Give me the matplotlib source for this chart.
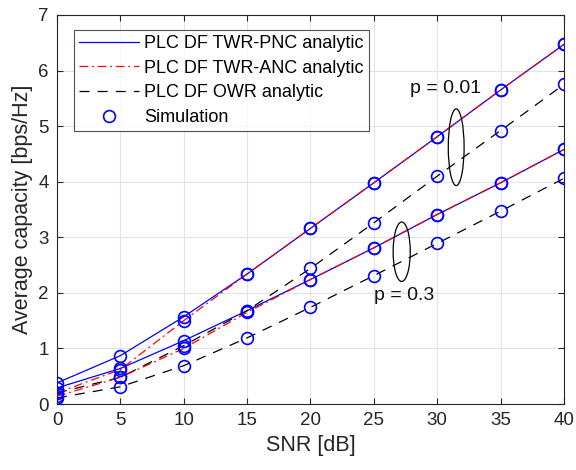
import matplotlib
matplotlib.use("Agg")
import matplotlib.pyplot as plt
from matplotlib.patches import Ellipse
from matplotlib.lines import Line2D

plt.rcParams['font.family'] = ['Liberation Sans', 'DejaVu Sans']

snr = [0, 5, 10, 15, 20, 25, 30, 35, 40]
pnc_001 = [0.38, 0.87, 1.57, 2.34, 3.16, 3.98, 4.81, 5.65, 6.47]
anc_001 = [0.20, 0.62, 1.50, 2.34, 3.16, 3.98, 4.81, 5.65, 6.47]
owr_001 = [0.20, 0.48, 1.05, 1.68, 2.44, 3.26, 4.10, 4.92, 5.75]
pnc_03 = [0.29, 0.64, 1.14, 1.68, 2.24, 2.81, 3.41, 3.98, 4.58]
anc_03 = [0.14, 0.48, 1.00, 1.65, 2.24, 2.81, 3.41, 3.98, 4.58]
owr_03 = [0.11, 0.31, 0.69, 1.19, 1.74, 2.31, 2.89, 3.47, 4.06]

legend_labels = ["PLC DF TWR-PNC analytic", "PLC DF TWR-ANC analytic",
                 "PLC DF OWR analytic", "Simulation"]

fig = plt.figure(figsize=(5.76, 4.70), dpi=100)
ax = fig.add_axes([0.099, 0.1404, 0.880, 0.8277])

dash = (0, (8, 6.5))
dashdot = (0, (7, 3, 1.5, 3))
for y in (pnc_001, pnc_03):
    ax.plot(snr, y, color='#0000ff', lw=0.9, zorder=3)
for y in (owr_001, owr_03):
    ax.plot(snr, y, color='black', lw=0.9, linestyle=dash, zorder=3)
for y in (anc_001, anc_03):
    ax.plot(snr, y, color='#ff0000', lw=0.9, linestyle=dashdot, zorder=4)
for y in (pnc_001, anc_001, owr_001, pnc_03, anc_03, owr_03):
    ax.plot(snr, y, linestyle='none', marker='o', ms=8.5, mfc='none',
            mec='#0000ff', mew=1.2, zorder=5)

ax.add_patch(Ellipse((31.5, 4.62), 1.25, 1.38, fill=False, ec='black', lw=0.9, zorder=6))
ax.add_patch(Ellipse((27.2, 2.74), 1.35, 1.07, fill=False, ec='black', lw=0.9, zorder=6))
ax.text(30.7, 5.67, "p = 0.01", fontsize=14, ha='center', va='center', color='#111111')
ax.text(27.4, 1.95, "p = 0.3", fontsize=14, ha='center', va='center', color='#111111')

ax.set_xlim(0, 40)
ax.set_ylim(0, 7)
ax.set_xticks(snr)
ax.set_yticks(range(0, 8))
ax.grid(True, color='#e3e3e3', lw=0.8)
ax.set_axisbelow(True)
ax.tick_params(direction='in', top=True, right=True, labelsize=13.5,
               colors='#262626', length=4, pad=6)
for s in ax.spines.values():
    s.set_color('#262626')
    s.set_linewidth(0.8)
ax.set_xlabel("SNR [dB]", fontsize=15.5, color='#262626', labelpad=4)
ax.set_ylabel("Average capacity [bps/Hz]", fontsize=15.5, color='#262626', labelpad=4)

handles = [
    Line2D([], [], color='#0000ff', lw=0.9),
    Line2D([], [], color='#ff0000', lw=0.9, linestyle=dashdot),
    Line2D([], [], color='black', lw=0.9, linestyle=dash),
    Line2D([], [], linestyle='none', marker='o', ms=8.5, mfc='none', mec='#0000ff', mew=1.2),
]
leg = ax.legend(handles, legend_labels, loc='upper left', bbox_to_anchor=(0.033, 0.962),
                fontsize=13, frameon=True, fancybox=False, handlelength=3.3,
                borderpad=0.3, labelspacing=0.42, handletextpad=0.3, borderaxespad=0)
leg.get_frame().set_edgecolor('#262626')
leg.get_frame().set_linewidth(0.8)

fig.savefig("out.png", dpi=100)
